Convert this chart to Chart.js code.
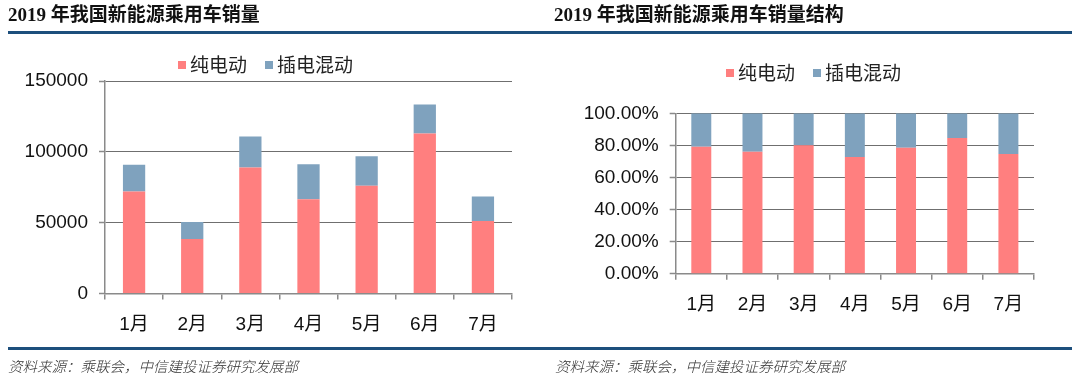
<!DOCTYPE html>
<html>
<head>
<meta charset="utf-8">
<script src="https://cdn.jsdelivr.net/npm/chart.js@4.4.1/dist/chart.umd.min.js"></script>
<style>
  html, body { margin:0; padding:0; background:#fff; }
  #wrap { position:relative; width:1080px; height:382px; overflow:hidden; background:#fff; }
  canvas { position:absolute; top:0; }
  .title { position:absolute; top:3px; font-family:"Liberation Serif","Noto Sans CJK SC",serif; font-weight:bold; font-size:19px; color:#111; white-space:nowrap; line-height:24px; }
  .rule { position:absolute; left:8px; width:1064px; height:3px; background:#1d4f7c; }
  .src { position:absolute; top:356px; font-family:"Noto Sans CJK SC",sans-serif; font-style:italic; font-weight:300; font-size:14.5px; color:#333; white-space:nowrap; line-height:20px; }
  .legend { position:absolute; font-family:"Noto Sans CJK SC",sans-serif; font-size:19px; color:#222; white-space:nowrap; line-height:22px; }
  .legend i { display:inline-block; width:8px; height:8px; margin-right:4px; vertical-align:middle; position:relative; top:-2px; }
  .legend span { margin-right:18px; }
</style>
</head>
<body>
<div id="wrap">
  <canvas id="c1" width="540" height="382" style="left:0"></canvas>
  <canvas id="c2" width="540" height="382" style="left:540px"></canvas>
  <div class="title" style="left:8px">2019 年我国新能源乘用车销量</div>
  <div class="title" style="left:554px">2019 年我国新能源乘用车销量结构</div>
  <div class="rule" style="top:31px"></div>
  <div class="rule" style="top:347px"></div>
  <div class="src" style="left:8px">资料来源：乘联会，中信建投证券研究发展部</div>
  <div class="src" style="left:555px">资料来源：乘联会，中信建投证券研究发展部</div>
  <div class="legend" id="lg1" style="left:178px;top:53px"></div>
  <div class="legend" id="lg2" style="left:726px;top:61px"></div>
</div>
<script>
// ---- data ----
const months = ['1月', '2月', '3月', '4月', '5月', '6月', '7月'];
const seriesNames = ['纯电动', '插电混动'];
const bevSales  = [72000, 38400, 89000, 66600, 76000, 113000, 51100];
const phevSales = [18900, 12000, 21900, 24700, 20800, 20500, 17400];
const bevShare  = [79.2, 76.0, 80.1, 72.7, 78.5, 84.6, 74.7];
const phevShare = [20.8, 24.0, 19.9, 27.3, 21.5, 15.4, 25.3];
const salesTicks = [0, 50000, 100000, 150000];
const shareTicks = [0, 20, 40, 60, 80, 100];

// ---- styles ----
const RED = '#FF7F7F';
const BLUE = '#7FA2BE';
const AXIS = '#8a8a8a';
const GRID = '#6f6f6f';
const FONT = { family: '"Liberation Sans", Arial, "Noto Sans CJK SC", sans-serif', size: 19 };

function legendHTML(el) {
  const cols = [RED, BLUE];
  el.innerHTML = seriesNames.map((n, i) => `<span><i style="background:${cols[i]}"></i>${n}</span>`).join('');
}
legendHTML(document.getElementById('lg1'));
legendHTML(document.getElementById('lg2'));

function makeChart(id, d1, d2, ticksArr, fmt, yWidth, padding, barPct) {
  const step = ticksArr[1] - ticksArr[0];
  return new Chart(document.getElementById(id), {
    type: 'bar',
    data: {
      labels: months,
      datasets: [
        { label: seriesNames[0], data: d1, backgroundColor: RED, borderWidth: 0, barPercentage: barPct, categoryPercentage: 1 },
        { label: seriesNames[1], data: d2, backgroundColor: BLUE, borderWidth: 0, barPercentage: barPct, categoryPercentage: 1 }
      ]
    },
    options: {
      responsive: false,
      animation: false,
      devicePixelRatio: 1,
      layout: { padding: padding },
      plugins: { legend: { display: false }, tooltip: { enabled: false } },
      scales: {
        x: {
          stacked: true,
          offset: true,
          grid: { display: true, drawOnChartArea: false, drawTicks: true, tickLength: 6, color: AXIS, lineWidth: 1.5, offset: true },
          border: { display: true, color: AXIS, width: 1.5 },
          ticks: { color: '#111', font: FONT, padding: 14 },
          afterFit: s => { s.height = 45; }
        },
        y: {
          stacked: true,
          min: ticksArr[0],
          max: ticksArr[ticksArr.length - 1],
          ticks: { stepSize: step, color: '#111', font: FONT, padding: 11, callback: fmt },
          grid: { color: GRID, lineWidth: 1, borderDash: [1, 2], tickLength: 6, tickColor: AXIS, tickBorderDash: [], tickWidth: 1.5 },
          border: { display: true, color: AXIS, width: 1.5 },
          afterFit: s => { s.width = yWidth; }
        }
      }
    }
  });
}

makeChart('c1', bevSales, phevSales, salesTicks, v => String(v), 80,
  { left: 25, right: 28, top: 81, bottom: 43.5 }, 0.383);
makeChart('c2', bevShare, phevShare, shareTicks, v => Number(v).toFixed(2) + '%', 110,
  { left: 25.7, right: 46, top: 113.3, bottom: 63.3 }, 0.39);
</script>
</body>
</html>
